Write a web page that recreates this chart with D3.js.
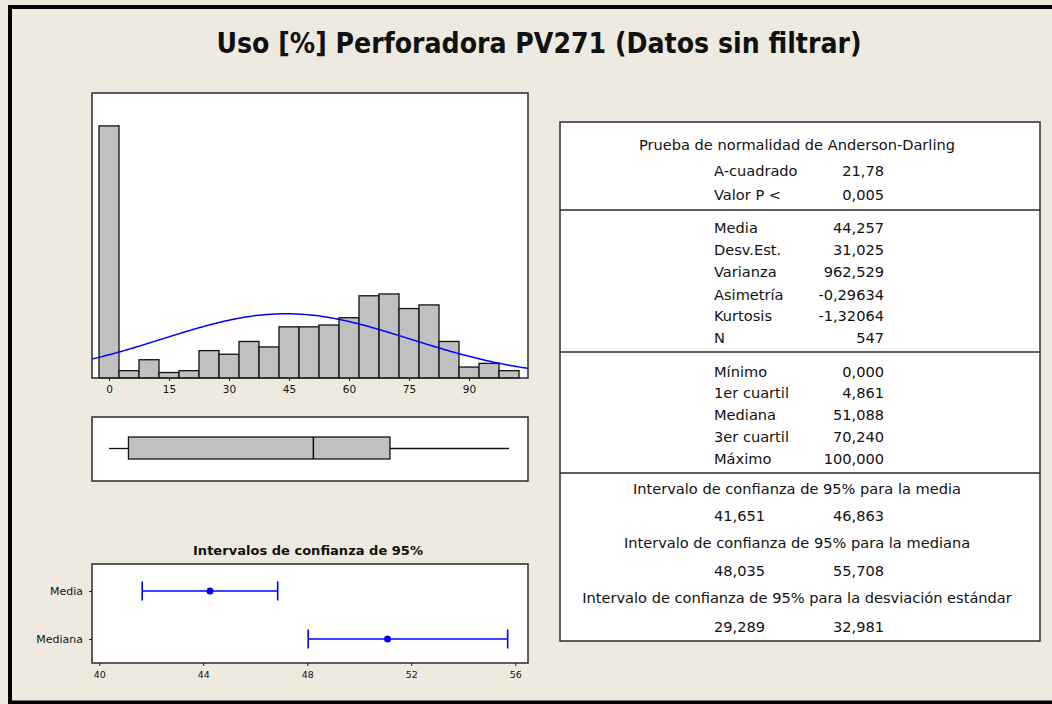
<!DOCTYPE html>
<html>
<head>
<meta charset="utf-8">
<script src="https://cdn.jsdelivr.net/npm/d3@7"></script>
<style>
  html, body { margin: 0; padding: 0; background: #eeeae0; }
  svg { display: block; }
  text { font-family: "DejaVu Sans", Verdana, sans-serif; fill: #111; }
</style>
</head>
<body>
<svg id="chart" width="1052" height="704"></svg>
<script>
// ---- data ----
var chartTitle = "Uso [%] Perforadora PV271 (Datos sin filtrar)";

// histogram: bin centres (width 5) and counts
var binCenters = [0, 5, 10, 15, 20, 25, 30, 35, 40, 45, 50, 55, 60, 65, 70, 75, 80, 85, 90, 95, 100];
var binCounts  = [138, 4, 10, 3, 4, 15, 13, 20, 17, 28, 28, 29, 33, 45, 46, 38, 40, 20, 6, 8, 4];
var binWidth = 5;
var histTicks = [0, 15, 30, 45, 60, 75, 90];

// summary statistics
var mean = 44.257, stdev = 31.025, nObs = 547;
var boxNames  = ["min", "q1", "median", "q3", "max"];
var boxValues = [0, 4.861, 51.088, 70.240, 100];

// 95% confidence intervals
var ciTitle = "Intervalos de confianza de 95%";
var ciLabels = ["Media", "Mediana"];
var ciCenter = [44.257, 51.088];
var ciLow    = [41.651, 48.035];
var ciHigh   = [46.863, 55.708];
var ciTicks  = [40, 44, 48, 52, 56];

// table on the right
var adHeader = "Prueba de normalidad de Anderson-Darling";
var adLabels = ["A-cuadrado", "Valor P <"];
var adValues = ["21,78", "0,005"];
var momentLabels = ["Media", "Desv.Est.", "Varianza", "Asimetría", "Kurtosis", "N"];
var momentValues = ["44,257", "31,025", "962,529", "-0,29634", "-1,32064", "547"];
var quartLabels = ["Mínimo", "1er cuartil", "Mediana", "3er cuartil", "Máximo"];
var quartValues = ["0,000", "4,861", "51,088", "70,240", "100,000"];
var intervalHeads = ["Intervalo de confianza de 95% para la media",
                     "Intervalo de confianza de 95% para la mediana",
                     "Intervalo de confianza de 95% para la desviación estándar"];
var intervalLow  = ["41,651", "48,035", "29,289"];
var intervalHigh = ["46,863", "55,708", "32,981"];

// ---- drawing ----
(function () {
  'use strict';

  var svg = d3.select("#chart");
  var frameColor = "#2b2b2b";

  svg.append("rect").attr("width", 1052).attr("height", 704).attr("fill", "#eeeae0");

  // outer border (left, top, bottom visible)
  svg.append("path")
    .attr("d", "M10,704 L10,7 L1052,7 M10,702.5 L1052,702.5")
    .attr("fill", "none").attr("stroke", "#000").attr("stroke-width", 4);

  svg.append("text")
    .attr("x", 539).attr("y", 53)
    .attr("text-anchor", "middle")
    .attr("font-size", 28).attr("font-weight", "bold")
    .style("font-family", "'DejaVu Sans Condensed', 'Liberation Sans Narrow', 'DejaVu Sans', sans-serif")
    .attr("textLength", 645).attr("lengthAdjust", "spacingAndGlyphs")
    .text(chartTitle);

  // ---------- histogram ----------
  var x = d3.scaleLinear().domain([-4.25, 104.75]).range([92, 528]);
  var y = d3.scaleLinear().domain([0, 156]).range([378, 93]);

  svg.append("rect")
    .attr("x", 92).attr("y", 93).attr("width", 436).attr("height", 285)
    .attr("fill", "#fff");

  svg.append("g").selectAll("rect")
    .data(binCenters)
    .enter().append("rect")
      .attr("x", function(d){ return x(d - binWidth / 2); })
      .attr("y", function(d, i){ return y(binCounts[i]); })
      .attr("width", function(d){ return x(d + binWidth / 2) - x(d - binWidth / 2); })
      .attr("height", function(d, i){ return y(0) - y(binCounts[i]); })
      .attr("fill", "#c0c0c0")
      .attr("stroke", "#111").attr("stroke-width", 1.3);

  // fitted normal curve
  var curvePts = d3.range(-4.25, 104.8, 0.5).map(function(v){
    var z = (v - mean) / stdev;
    return [v, nObs * binWidth * Math.exp(-0.5 * z * z) / (stdev * Math.sqrt(2 * Math.PI))];
  });
  svg.append("path")
    .datum(curvePts)
    .attr("d", d3.line().x(function(d){ return x(d[0]); }).y(function(d){ return y(d[1]); }))
    .attr("fill", "none").attr("stroke", "#0000ff").attr("stroke-width", 1.5);

  svg.append("rect")
    .attr("x", 92).attr("y", 93).attr("width", 436).attr("height", 285)
    .attr("fill", "none").attr("stroke", frameColor).attr("stroke-width", 1.5);

  var xAxis = svg.append("g")
    .attr("transform", "translate(0,378)")
    .call(d3.axisBottom(x).tickValues(histTicks).tickSize(3).tickPadding(5));
  xAxis.select(".domain").remove();
  xAxis.selectAll("text").attr("font-size", 10.5).attr("fill", "#222").style("font-family", "DejaVu Sans, sans-serif");
  xAxis.selectAll("line").attr("stroke", "#222");

  // ---------- boxplot ----------
  svg.append("rect")
    .attr("x", 92).attr("y", 417).attr("width", 436).attr("height", 64)
    .attr("fill", "#fff").attr("stroke", frameColor).attr("stroke-width", 1.5);

  var box = {};
  boxNames.forEach(function(k, i){ box[k] = boxValues[i]; });
  var boxTop = 437, boxBot = 459, boxMid = 448.5;

  var whisk = svg.append("g").attr("stroke", "#111").attr("stroke-width", 1.3);
  whisk.append("line").attr("x1", x(box.min)).attr("x2", x(box.q1)).attr("y1", boxMid).attr("y2", boxMid);
  whisk.append("line").attr("x1", x(box.q3)).attr("x2", x(box.max)).attr("y1", boxMid).attr("y2", boxMid);
  svg.append("rect")
    .attr("x", x(box.q1)).attr("y", boxTop)
    .attr("width", x(box.q3) - x(box.q1)).attr("height", boxBot - boxTop)
    .attr("fill", "#c0c0c0").attr("stroke", "#111").attr("stroke-width", 1.3);
  svg.append("line")
    .attr("x1", x(box.median)).attr("x2", x(box.median)).attr("y1", boxTop).attr("y2", boxBot)
    .attr("stroke", "#111").attr("stroke-width", 1.5);

  // ---------- confidence interval plot ----------
  svg.append("text")
    .attr("x", 308).attr("y", 555)
    .attr("text-anchor", "middle")
    .attr("font-size", 12.5).attr("font-weight", "bold")
    .attr("textLength", 230).attr("lengthAdjust", "spacingAndGlyphs")
    .text(ciTitle);

  var cx = d3.scaleLinear().domain([39.72, 56.49]).range([92, 528]);
  var cy = d3.scalePoint().domain(ciLabels).range([591, 639]);

  svg.append("rect")
    .attr("x", 92).attr("y", 564).attr("width", 436).attr("height", 99)
    .attr("fill", "#fff").attr("stroke", frameColor).attr("stroke-width", 1.5);

  var ciAxis = svg.append("g")
    .attr("transform", "translate(0,663)")
    .call(d3.axisBottom(cx).tickValues(ciTicks).tickSize(3).tickPadding(5));
  ciAxis.select(".domain").remove();
  ciAxis.selectAll("text").attr("font-size", 9.5).attr("fill", "#222").style("font-family", "DejaVu Sans, sans-serif");
  ciAxis.selectAll("line").attr("stroke", "#222");

  var ciYAxis = svg.append("g")
    .attr("transform", "translate(92,0)")
    .call(d3.axisLeft(cy).tickSize(3).tickPadding(6));
  ciYAxis.select(".domain").remove();
  ciYAxis.selectAll("text").attr("font-size", 11).attr("fill", "#222").style("font-family", "DejaVu Sans, sans-serif");
  ciYAxis.selectAll("line").attr("stroke", "#222");

  var ci = svg.append("g").selectAll("g")
    .data(ciLabels)
    .enter().append("g")
      .attr("stroke", "#0000ff").attr("stroke-width", 1.6);
  ci.append("line")
    .attr("x1", function(d, i){ return cx(ciLow[i]); })
    .attr("x2", function(d, i){ return cx(ciHigh[i]); })
    .attr("y1", function(d){ return cy(d); })
    .attr("y2", function(d){ return cy(d); });
  ci.append("line")
    .attr("x1", function(d, i){ return cx(ciLow[i]); })
    .attr("x2", function(d, i){ return cx(ciLow[i]); })
    .attr("y1", function(d){ return cy(d) - 9.5; })
    .attr("y2", function(d){ return cy(d) + 9.5; });
  ci.append("line")
    .attr("x1", function(d, i){ return cx(ciHigh[i]); })
    .attr("x2", function(d, i){ return cx(ciHigh[i]); })
    .attr("y1", function(d){ return cy(d) - 9.5; })
    .attr("y2", function(d){ return cy(d) + 9.5; });
  ci.append("circle")
    .attr("cx", function(d, i){ return cx(ciCenter[i]); })
    .attr("cy", function(d){ return cy(d); })
    .attr("r", 3.5)
    .attr("fill", "#0000ff").attr("stroke", "none");

  // ---------- statistics table ----------
  var tblLeft = 560, tblRight = 1040, tblTop = 122, tblBottom = 641;
  var tbl = svg.append("g");
  tbl.append("rect")
    .attr("x", tblLeft).attr("y", tblTop)
    .attr("width", tblRight - tblLeft).attr("height", tblBottom - tblTop)
    .attr("fill", "#fff").attr("stroke", frameColor).attr("stroke-width", 1.5);
  tbl.selectAll("line.div")
    .data([210, 352, 473])
    .enter().append("line")
      .attr("class", "div")
      .attr("x1", tblLeft).attr("x2", tblRight)
      .attr("y1", function(d){ return d; }).attr("y2", function(d){ return d; })
      .attr("stroke", frameColor).attr("stroke-width", 1.5);

  var tblCenter = 797, labelX = 714, valueX = 884, fs = 14.6;

  function addRows(labels, values, ys) {
    tbl.append("g").selectAll("text")
      .data(labels).enter().append("text")
        .attr("x", labelX).attr("y", function(d, i){ return ys[i]; })
        .attr("dy", "0.35em").attr("font-size", fs)
        .text(function(d){ return d; });
    tbl.append("g").selectAll("text")
      .data(values).enter().append("text")
        .attr("x", valueX).attr("y", function(d, i){ return ys[i]; })
        .attr("dy", "0.35em").attr("font-size", fs)
        .attr("text-anchor", "end")
        .text(function(d){ return d; });
  }

  tbl.append("text")
    .attr("x", tblCenter).attr("y", 145).attr("dy", "0.35em")
    .attr("text-anchor", "middle").attr("font-size", fs)
    .text(adHeader);
  addRows(adLabels, adValues, [171, 195]);
  addRows(momentLabels, momentValues, [228, 250, 272, 295, 316, 338]);
  addRows(quartLabels, quartValues, [372, 393, 415, 437, 459]);

  var headY = [489, 543, 598], valY = [516, 571, 627];
  tbl.append("g").selectAll("text")
    .data(intervalHeads).enter().append("text")
      .attr("x", tblCenter).attr("y", function(d, i){ return headY[i]; })
      .attr("dy", "0.35em").attr("text-anchor", "middle").attr("font-size", fs)
      .text(function(d){ return d; });
  tbl.append("g").selectAll("text")
    .data(intervalLow).enter().append("text")
      .attr("x", labelX).attr("y", function(d, i){ return valY[i]; })
      .attr("dy", "0.35em").attr("font-size", fs)
      .text(function(d){ return d; });
  tbl.append("g").selectAll("text")
    .data(intervalHigh).enter().append("text")
      .attr("x", valueX).attr("y", function(d, i){ return valY[i]; })
      .attr("dy", "0.35em").attr("text-anchor", "end").attr("font-size", fs)
      .text(function(d){ return d; });
})();
</script>
</body>
</html>
